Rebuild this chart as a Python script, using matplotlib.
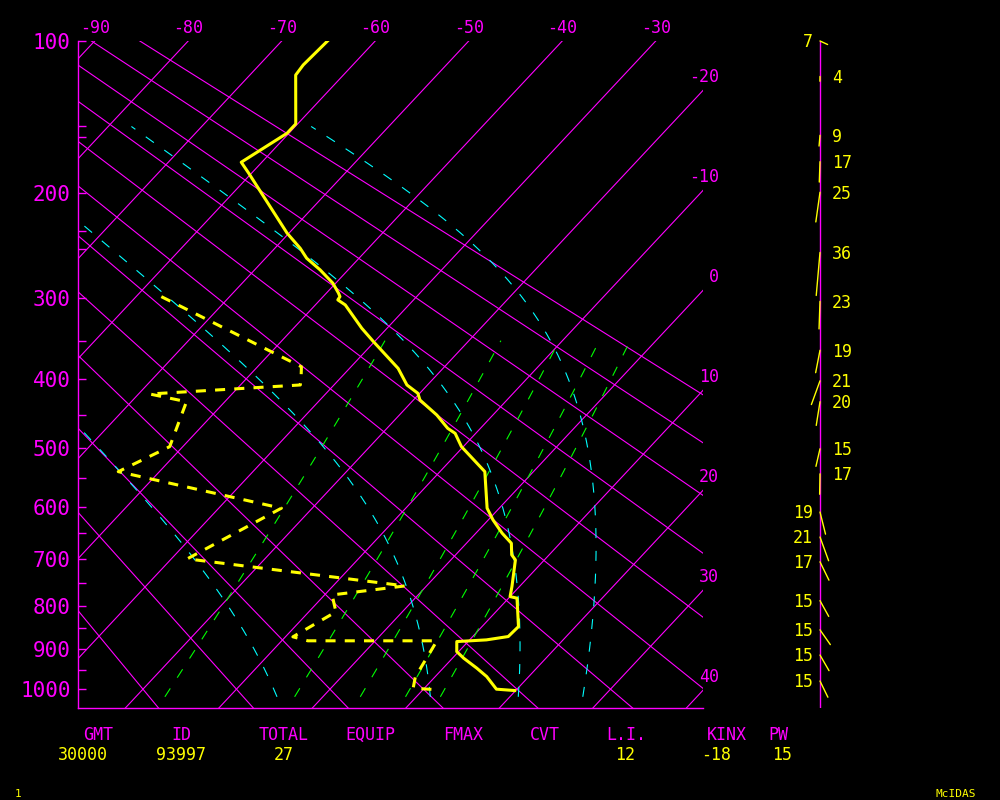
import numpy as np
import matplotlib
matplotlib.use("Agg")
import matplotlib.pyplot as plt

plt.rcParams['font.family'] = ['DejaVu Sans Mono']

KAPPA = 0.286
SKEW = 18.64          # deg C per unit of p**kappa

# sounding: temperature
temp_p = [100.0, 112.6, 118.2, 148.3, 154.6, 175.4, 183.8, 234.7, 248.9, 258.7,
          270.4, 284.3, 295.0, 298.8, 302.4, 308.0, 335.0, 351.3, 385.3, 407.6,
          419.1, 428.6, 450.3, 470.2, 477.9, 498.6, 539.3, 603.0, 624.5, 649.5,
          669.0, 692.0, 702.1, 757.6, 779.1, 782.6, 846.4, 869.6, 877.5, 881.5,
          905.6, 921.7, 946.4, 967.6, 1000.0, 1003.6]
temp_t = [-65.1, -65.3, -65.1, -60.2, -60.2, -62.2, -60.3, -50.2, -47.3, -45.6,
          -43.0, -40.3, -38.7, -38.2, -38.1, -36.8, -32.7, -30.1, -24.8, -22.2,
          -20.2, -19.3, -16.0, -13.5, -12.2, -10.2, -5.2, -1.3, 0.5, 2.8,
          4.8, 6.0, 6.9, 9.2, 10.0, 10.9, 13.9, 13.8, 11.8, 8.8,
          9.8, 11.2, 13.6, 15.5, 17.8, 19.9]

# sounding: dewpoint
dew_p = [298.8, 383.2, 394.2, 407.6, 420.1, 431.0, 498.6, 539.3, 603.0, 700.0,
         756.1, 775.5, 812.8, 870.3, 879.7, 879.7, 906.3, 968.4, 997.5, 1001.9]
dew_t = [-57.3, -35.3, -34.5, -33.6, -48.8, -44.1, -41.4, -44.4, -23.3, -28.3,
         -2.3, -9.2, -7.1, -9.2, -7.2, 6.6, 7.0, 7.9, 8.8, 11.8]

# winds (speed labels on the right-hand staff)
wind_p = [100, 119, 156, 175, 199, 253, 304, 362, 402, 431, 502, 543,
          610, 657, 706, 788, 854, 914, 979]
wind_dir = [115, 181, 185, 182, 188, 185, 182, 191, 200, 189, 193, 181,
            166, 160, 154, 151, 145, 150, 154]
wind_spd = [7, 4, 9, 17, 25, 36, 23, 19, 21, 20, 15, 17,
            19, 21, 17, 15, 15, 15, 15]

# background lines
isotherms = np.arange(-100, 60, 10)
dry_theta_c = np.arange(-30, 100, 10)
moist_t1020 = [-4.9, 11.5, 20.9, 27.8]
mix_ratios = [1, 3, 5, 7, 9]

top_labels = [-90, -80, -70, -60, -50, -40, -30]
right_labels = [-20, -10, 0, 10, 20, 30, 40]
p_major = [100, 200, 300, 400, 500, 600, 700, 800, 900, 1000]
p_minor = [150, 157, 233, 250, 350, 450, 550, 650, 750, 850, 950]

# footer
foot_names = ["GMT", "ID", "TOTAL", "EQUIP", "FMAX", "CVT", "L.I.", "KINX", "PW"]
foot_name_x = [98, 181, 284, 370, 463, 545, 626, 727, 778]
foot_vals = ["30000", "93997", "27", "12", "-18", "15"]
foot_val_x = [83, 181, 284, 625, 716, 782]

MAG, YEL, CYN, GRN = "#ff00ff", "#ffff00", "#00ffff", "#00ff00"
P_BOT, P_TOP = 1049, 100
X_LEFT, X_RIGHT = -27.0, 39.86


def fwd(p):
    return np.sign(p) * np.abs(p) ** KAPPA


def inv(y):
    return np.sign(y) * np.abs(y) ** (1 / KAPPA)


def skx(t, p):
    return np.asarray(t) + SKEW * (1000 ** KAPPA - np.asarray(p) ** KAPPA)


def moist_path(t0, p0, p1, n=300):
    rd, cp, lv, eps = 287.04, 1005.7, 2.501e6, 0.622

    def f(T, p):
        es = 6.112 * np.exp(17.67 * (T - 273.15) / (T - 29.65))
        rs = eps * es / (p - es)
        return (rd * T + lv * rs) / (cp + lv * lv * rs * eps / (rd * T * T)) / p

    ps = np.linspace(p0, p1, n)
    T = t0 + 273.15
    out = [T]
    for i in range(n - 1):
        dp = ps[i + 1] - ps[i]
        pm = ps[i] + dp / 2
        k1 = f(T, ps[i])
        k2 = f(T + dp * k1 / 2, pm)
        k3 = f(T + dp * k2 / 2, pm)
        k4 = f(T + dp * k3, ps[i + 1])
        T = T + dp * (k1 + 2 * k2 + 2 * k3 + k4) / 6
        out.append(T)
    return ps, np.array(out) - 273.15


fig = plt.figure(figsize=(10, 8), dpi=100, facecolor="black")
ax = fig.add_axes([0.0775, 0.1154, 0.6252, 0.8334], facecolor="black")
ax.set_yscale("function", functions=(fwd, inv))
ax.set_ylim(P_BOT, P_TOP)
ax.set_xlim(X_LEFT, X_RIGHT)

pp = np.linspace(1100, 90, 60)
for t in isotherms:
    ax.plot(skx(t, pp), pp, color=MAG, lw=0.8)
for th in dry_theta_c:
    tt = (th + 273.15) * (pp / 1000) ** KAPPA - 273.15
    ax.plot(skx(tt, pp), pp, color=MAG, lw=0.8)

# mixing ratio lines
pm = np.linspace(1020, 350, 60)
for w in mix_ratios:
    e = pm * w / (622.0 + w)
    le = np.log(e / 6.112)
    td = 243.5 * le / (17.67 - le)
    ax.plot(skx(td, pm), pm, color=GRN, lw=0.8, dashes=(9, 11.5))

# moist adiabats
for t0 in moist_t1020:
    ps, ts = moist_path(t0, 1020, 150)
    ax.plot(skx(ts, ps), ps, color=CYN, lw=0.8, dashes=(9, 11.5))

ax.plot(skx(dew_t, dew_p), dew_p, color=YEL, lw=2.2, dashes=(3.3, 3.0))
ax.plot(skx(temp_t, temp_p), temp_p, color=YEL, lw=2.2)

for s in ["top", "right"]:
    ax.spines[s].set_visible(False)
for s in ["left", "bottom"]:
    ax.spines[s].set_color(MAG)
    ax.spines[s].set_linewidth(1)
ax.set_xticks([])
ax.set_yticks(p_major)
ax.set_yticklabels([str(p) for p in p_major])
ax.set_yticks(p_minor, minor=True)
ax.set_yticklabels([], minor=True)
ax.tick_params(axis="y", which="both", direction="in", length=6, width=1,
               color=MAG, labelcolor=MAG, labelsize=15, pad=5)

for t in top_labels:
    ax.annotate(str(t), xy=(skx(t, P_TOP), P_TOP), xytext=(0, 9.5),
                textcoords="offset points", ha="center", va="center",
                color=MAG, fontsize=12, annotation_clip=False)
for t in right_labels:
    pk = 1000 ** KAPPA - (X_RIGHT - t) / SKEW
    ax.annotate(str(t), xy=(X_RIGHT, pk ** (1 / KAPPA)), xytext=(11.8, 9.7),
                textcoords="offset points", ha="right", va="center",
                color=MAG, fontsize=12, annotation_clip=False)

# wind column
axw = fig.add_axes([0.76, 0.1154, 0.12, 0.8334])
axw.set_yscale("function", functions=(fwd, inv))
axw.set_ylim(P_BOT, P_TOP)
axw.set_xlim(-1, 1)
axw.axis("off")
axw.plot([0, 0], [P_BOT, P_TOP], color=MAG, lw=1)
for p, d, s in zip(wind_p, wind_dir, wind_spd):
    L = 1.2 * s * 0.72
    dx = L * np.sin(np.radians(d))
    dy = L * np.cos(np.radians(d))
    axw.annotate("", xy=(0, p), xytext=(dx, dy), textcoords="offset points",
                 arrowprops=dict(arrowstyle="-", color=YEL, lw=1,
                                 shrinkA=0, shrinkB=0))
    if dx > 0.01:
        axw.annotate(str(s), xy=(0, p), xytext=(-5, -1), textcoords="offset points",
                     ha="right", va="center", color=YEL, fontsize=12)
    else:
        axw.annotate(str(s), xy=(0, p), xytext=(8.6, -1), textcoords="offset points",
                     ha="left", va="center", color=YEL, fontsize=12)

for name, x in zip(foot_names, foot_name_x):
    fig.text(x / 1000, 1 - 735 / 800, name, ha="center", va="center",
             color=MAG, fontsize=12)
for val, x in zip(foot_vals, foot_val_x):
    fig.text(x / 1000, 1 - 755 / 800, val, ha="center", va="center",
             color=YEL, fontsize=12)
fig.text(18.5 / 1000, 1 - 794 / 800, "1", ha="center", va="center",
         color=YEL, fontsize=8)
fig.text(956 / 1000, 1 - 794 / 800, "McIDAS", ha="center", va="center",
         color=YEL, fontsize=8)

fig.savefig("out.png", dpi=100, facecolor="black")
